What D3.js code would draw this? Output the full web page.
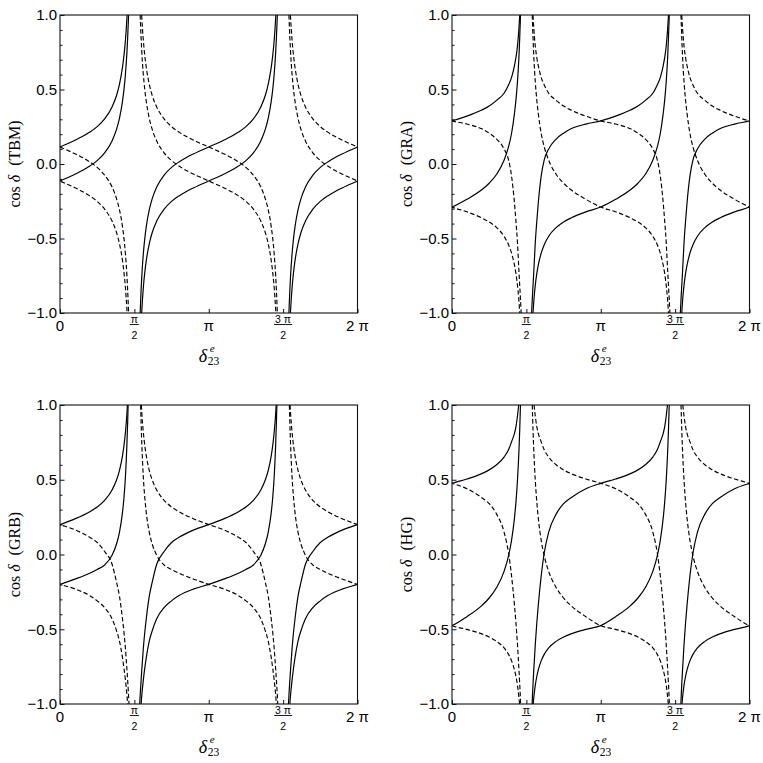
<!DOCTYPE html>
<html><head><meta charset="utf-8">
<script src="https://cdn.jsdelivr.net/npm/d3@7"></script>
<style>body{margin:0;background:#fff} svg{display:block}</style>
</head><body><svg id="c" width="763" height="763"></svg>
<script>
// categories / tick labels
const panelNames = ["TBM", "GRA", "GRB", "HG"];
const xTickValues = [0, 0.5, 1, 1.5, 2];          // in units of π
const xTickLabels = ["0", "π/2", "π", "3π/2", "2π"];
const yTickValues = [-1, -0.5, 0, 0.5, 1];
const yTickLabels = ["−1.0", "−0.5", "0.0", "0.5", "1.0"];
const yMinorValues = [-0.9,-0.8,-0.7,-0.6,-0.4,-0.3,-0.2,-0.1,0.1,0.2,0.3,0.4,0.6,0.7,0.8,0.9];

// one branch per series: [δ23e / π, cos δ]; solid = rising branch, dashed = its mirror image
const tbmA = [[-0.4611,-1],[-0.455,-0.849],[-0.45,-0.751],[-0.44,-0.604],[-0.43,-0.499],[-0.42,-0.42],[-0.4,-0.308],[-0.38,-0.232],[-0.35,-0.155],[-0.3,-0.075],[-0.25,-0.023],[-0.2,0.014],[-0.15,0.044],[-0.1,0.069],[0,0.114],[0.1,0.159],[0.15,0.184],[0.2,0.214],[0.25,0.251],[0.3,0.303],[0.35,0.383],[0.38,0.46],[0.4,0.536],[0.42,0.648],[0.43,0.727],[0.44,0.832],[0.445,0.9],[0.4512,1]];
const tbmB = [[-0.4512,-1],[-0.445,-0.9],[-0.44,-0.832],[-0.43,-0.727],[-0.42,-0.648],[-0.4,-0.536],[-0.38,-0.46],[-0.35,-0.383],[-0.3,-0.303],[-0.25,-0.251],[-0.2,-0.214],[-0.15,-0.184],[-0.1,-0.159],[0,-0.114],[0.1,-0.069],[0.15,-0.044],[0.2,-0.014],[0.25,0.023],[0.3,0.075],[0.35,0.155],[0.38,0.232],[0.4,0.308],[0.42,0.42],[0.43,0.499],[0.44,0.604],[0.45,0.751],[0.455,0.849],[0.4611,1]];
const graA = [[-0.4648,-1],[-0.46,-0.9],[-0.455,-0.81],[-0.45,-0.72],[-0.44,-0.526],[-0.43,-0.386],[-0.42,-0.262],[-0.4,-0.078],[-0.38,0.028],[-0.35,0.101],[-0.3,0.167],[-0.25,0.207],[-0.2,0.236],[-0.1,0.268],[0,0.289],[0.1,0.321],[0.2,0.362],[0.25,0.389],[0.3,0.427],[0.35,0.475],[0.38,0.53],[0.4,0.58],[0.42,0.66],[0.43,0.715],[0.44,0.79],[0.45,0.91],[0.4555,1]];
const graB = [[-0.4555,-1],[-0.45,-0.92],[-0.44,-0.813],[-0.43,-0.736],[-0.42,-0.679],[-0.4,-0.597],[-0.38,-0.542],[-0.35,-0.485],[-0.3,-0.427],[-0.25,-0.389],[-0.2,-0.362],[-0.1,-0.321],[0,-0.289],[0.1,-0.237],[0.2,-0.173],[0.25,-0.129],[0.3,-0.069],[0.35,0.025],[0.38,0.115],[0.4,0.203],[0.42,0.34],[0.43,0.43],[0.44,0.55],[0.45,0.72],[0.455,0.84],[0.4607,1]];
const grbA = [[-0.464,-1],[-0.46,-0.925],[-0.455,-0.845],[-0.45,-0.77],[-0.44,-0.63],[-0.43,-0.52],[-0.42,-0.43],[-0.4,-0.28],[-0.38,-0.185],[-0.35,-0.065],[-0.3,0.02],[-0.25,0.08],[-0.2,0.115],[-0.1,0.165],[0,0.2],[0.1,0.238],[0.2,0.286],[0.25,0.318],[0.3,0.362],[0.35,0.432],[0.38,0.498],[0.4,0.563],[0.42,0.66],[0.43,0.728],[0.44,0.819],[0.45,0.945],[0.4533,1]];
const grbB = [[-0.455,-1],[-0.45,-0.94],[-0.44,-0.84],[-0.43,-0.76],[-0.42,-0.69],[-0.4,-0.58],[-0.38,-0.51],[-0.35,-0.43],[-0.3,-0.355],[-0.25,-0.31],[-0.2,-0.275],[-0.1,-0.23],[0,-0.2],[0.1,-0.165],[0.2,-0.125],[0.25,-0.1],[0.3,-0.07],[0.35,-0.005],[0.38,0.07],[0.4,0.15],[0.42,0.28],[0.43,0.38],[0.44,0.52],[0.45,0.74],[0.455,0.89],[0.458,1]];
const hgA = [[-0.461,-1],[-0.46,-0.97],[-0.455,-0.86],[-0.45,-0.77],[-0.44,-0.6],[-0.43,-0.46],[-0.42,-0.34],[-0.4,-0.14],[-0.38,0.01],[-0.35,0.15],[-0.3,0.27],[-0.25,0.34],[-0.2,0.38],[-0.1,0.44],[0,0.476],[0.1,0.505],[0.2,0.541],[0.25,0.566],[0.3,0.6],[0.35,0.652],[0.38,0.7],[0.4,0.753],[0.42,0.81],[0.43,0.855],[0.44,0.925],[0.4485,1]];
const hgB = [[-0.4542,-1],[-0.45,-0.956],[-0.44,-0.874],[-0.43,-0.816],[-0.42,-0.772],[-0.4,-0.71],[-0.38,-0.668],[-0.35,-0.625],[-0.3,-0.581],[-0.25,-0.552],[-0.2,-0.531],[-0.1,-0.501],[0,-0.476],[0.1,-0.416],[0.2,-0.342],[0.25,-0.291],[0.3,-0.221],[0.35,-0.113],[0.38,-0.009],[0.4,0.093],[0.42,0.245],[0.43,0.352],[0.44,0.494],[0.45,0.692],[0.455,0.824],[0.4603,1]];

const seriesByPanel = [[tbmA, tbmB], [graA, graB], [grbA, grbB], [hgA, hgB]];
const periodOffsets = [0, 1, 2];

// layout
const boxes = [
  {x0: 60, x1: 357.5, y0: 15, y1: 313},
  {x0: 452, x1: 749.5, y0: 15, y1: 313},
  {x0: 60, x1: 357.5, y0: 405, y1: 704},
  {x0: 452, x1: 749.5, y0: 405, y1: 704}
];

const svg = d3.select("#c");
const defs = svg.append("defs");
const SANS = "'Liberation Sans', Arial, sans-serif";
const SERIF = "'Liberation Serif', 'Times New Roman', serif";

panelNames.forEach((name, i) => {
  const b = boxes[i];
  const x = d3.scaleLinear().domain([0, 2]).range([b.x0, b.x1]);
  const y = d3.scaleLinear().domain([-1, 1]).range([b.y1, b.y0]);
  const g = svg.append("g");

  defs.append("clipPath").attr("id", "clip" + i).append("rect")
    .attr("x", b.x0).attr("y", b.y0).attr("width", b.x1 - b.x0).attr("height", b.y1 - b.y0);

  const line = d3.line().x(d => x(d[0])).y(d => y(d[1])).curve(d3.curveMonotoneX);
  const cg = g.append("g").attr("clip-path", `url(#clip${i})`);
  seriesByPanel[i].forEach(branch => {
    periodOffsets.forEach(k => {
      const solid = branch.map(d => [d[0] + k, d[1]]);
      const dashed = branch.map(d => [k - d[0], d[1]]).reverse();
      cg.append("path").attr("d", line(solid)).attr("fill", "none")
        .attr("stroke", "#000").attr("stroke-width", 1.2);
      cg.append("path").attr("d", line(dashed)).attr("fill", "none")
        .attr("stroke", "#000").attr("stroke-width", 1.15).attr("stroke-dasharray", "4.5,2.5");
    });
  });

  // frame
  g.append("rect").attr("x", b.x0).attr("y", b.y0).attr("width", b.x1 - b.x0).attr("height", b.y1 - b.y0)
    .attr("fill", "none").attr("stroke", "#111").attr("stroke-width", 1.1);

  // y axis (major + minor ticks, inward)
  const ya = g.append("g").attr("transform", `translate(${b.x0},0)`)
    .call(d3.axisLeft(y).tickValues(yTickValues).tickSizeInner(-4.5).tickSizeOuter(0).tickPadding(3)
      .tickFormat((d, j) => yTickLabels[j]));
  ya.select(".domain").remove();
  ya.selectAll("text").attr("font-family", SANS).attr("font-size", 15).attr("fill", "#000");
  ya.selectAll("line").attr("stroke", "#111");
  const ym = g.append("g").attr("transform", `translate(${b.x0},0)`)
    .call(d3.axisLeft(y).tickValues(yMinorValues).tickSizeInner(-2.5).tickSizeOuter(0).tickFormat(""));
  ym.select(".domain").remove();
  ym.selectAll("line").attr("stroke", "#111");

  // x axis
  const xa = g.append("g").attr("transform", `translate(0,${b.y1})`)
    .call(d3.axisBottom(x).tickValues(xTickValues).tickSizeInner(-4).tickSizeOuter(0).tickFormat(() => ""));
  xa.select(".domain").remove();
  xa.selectAll("line").attr("stroke", "#111");

  const lab = g.append("g").attr("font-family", SANS).attr("fill", "#000");
  xTickValues.forEach((v, j) => {
    const txt = xTickLabels[j];
    if (txt.includes("/")) {
      const [num, den] = txt.split("/");
      const numTxt = num.replace("π", " π").trim();
      lab.append("text").attr("x", x(v)).attr("y", b.y1 + 10.2).attr("text-anchor", "middle")
        .attr("font-size", 10.5).text(numTxt);
      const w = numTxt.length > 1 ? 18 : 9;
      lab.append("line").attr("x1", x(v) - w / 2).attr("x2", x(v) + w / 2)
        .attr("y1", b.y1 + 11.5).attr("y2", b.y1 + 11.5).attr("stroke", "#000").attr("stroke-width", 0.9);
      lab.append("text").attr("x", x(v)).attr("y", b.y1 + 25.5).attr("text-anchor", "middle")
        .attr("font-size", 10.5).text(den);
    } else {
      lab.append("text").attr("x", x(v)).attr("y", b.y1 + 17.5).attr("text-anchor", "middle")
        .attr("font-size", 15).text(txt.replace("2π", "2 π"));
    }
  });

  // x axis title δ^e_23
  const cx = x(1);
  const xt = g.append("g").attr("font-family", SERIF).attr("fill", "#000");
  xt.append("text").attr("x", cx - 10).attr("y", b.y1 + 48.5).attr("font-size", 18)
    .attr("font-style", "italic").text("δ");
  xt.append("text").attr("x", cx + 1).attr("y", b.y1 + 38.5).attr("font-size", 11)
    .attr("font-style", "italic").text("e");
  xt.append("text").attr("x", cx - 1).attr("y", b.y1 + 52).attr("font-size", 11.5).text("23");

  // y axis title
  const yl = g.append("text")
    .attr("transform", `translate(${b.x0 - 40.5},${(b.y0 + b.y1) / 2}) rotate(-90)`)
    .attr("text-anchor", "middle").attr("font-family", SERIF).attr("font-size", 16).attr("fill", "#000");
  yl.append("tspan").text("cos ");
  yl.append("tspan").attr("font-style", "italic").text("δ");
  yl.append("tspan").attr("dx", 9).text("(" + name + ")");
});
</script>
</body></html>
